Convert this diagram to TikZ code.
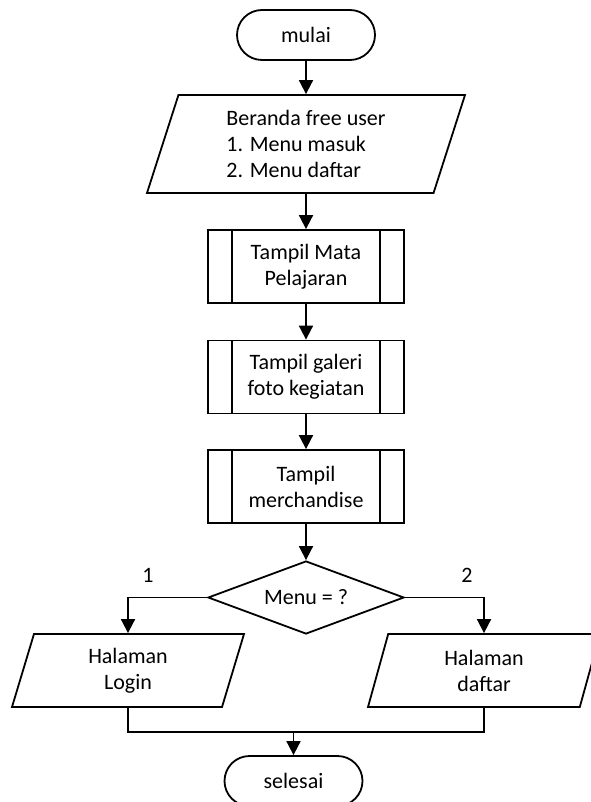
\documentclass[tikz,border=0pt]{standalone}
\usepackage{fontspec}
\setmainfont{Carlito}
\usepackage{tikz}
\usetikzlibrary{arrows.meta, shapes, positioning}
\tikzset{
    terminal/.style={draw, line width=1.8pt, rounded corners=25pt, minimum width=138pt, minimum height=50pt, inner sep=0pt},
    io/.style={draw, line width=1.8pt, trapezium, trapezium left angle=64, trapezium right angle=116, trapezium stretches body, minimum height=73pt, inner sep=0pt, align=center},
    process/.style={draw, line width=1.8pt, minimum width=196pt, minimum height=73pt, inner sep=0pt, align=center,
        path picture={
            \draw[line width=1.1pt] ([xshift=24pt]path picture bounding box.north west) -- ([xshift=24pt]path picture bounding box.south west);
            \draw[line width=1.1pt] ([xshift=-24pt]path picture bounding box.north east) -- ([xshift=-24pt]path picture bounding box.south east);
        }},
    decision/.style={draw, line width=1.8pt, diamond, aspect=2.68, minimum width=196pt, minimum height=73pt, inner sep=0pt},
    flow/.style={line width=1.8pt, -{Triangle[length=14pt, width=14pt]}},
    link/.style={line width=1.8pt}
}

\begin{document}
\begin{tikzpicture}[x=1pt, y=-1pt, font=\fontsize{22}{26}\selectfont]
    \useasboundingbox (0,0) rectangle (590,802);
    % shapes
    \node[terminal] (mulai) at (306,35) {mulai};
    \node[io, trapezium left angle=65, trapezium right angle=115, minimum width=318pt, minimum height=98pt, align=left] (beranda) at (306,144) {Beranda free user\\1. Menu masuk\\2. Menu daftar};
    \node[process] (mapel) at (306,266.5) {Tampil Mata\\Pelajaran};
    \node[process] (galeri) at (306,377) {Tampil galeri\\foto kegiatan};
    \node[process] (merch) at (306,486.5) {Tampil\\merchandise};
    \node[decision] (menu) at (306,597.5) {Menu = ?};
    \node[io, minimum width=232pt] (login) at (128,670.5) {Halaman\\Login};
    \node[io, minimum width=232pt] (daftar) at (484,670.5) {Halaman\\daftar};
    \node[terminal] (selesai) at (293.5,781) {selesai};
    \node (satu) at (148,575) {1};
    \node (dua) at (467,575) {2};
    \coordinate (gabung) at (293.5,732);
    % connectors
    \draw[flow] (mulai) -- (beranda);
    \draw[flow] (beranda) -- (mapel);
    \draw[flow] (mapel) -- (galeri);
    \draw[flow] (galeri) -- (merch);
    \draw[flow] (merch) -- (menu);
    \draw[flow] (menu.west) -| (login.north);
    \draw[flow] (menu.east) -| (daftar.north);
    \draw[link] (login.south) |- (gabung) -| (daftar.south);
    \draw[flow] (gabung) -- (selesai);
\end{tikzpicture}
\end{document}
